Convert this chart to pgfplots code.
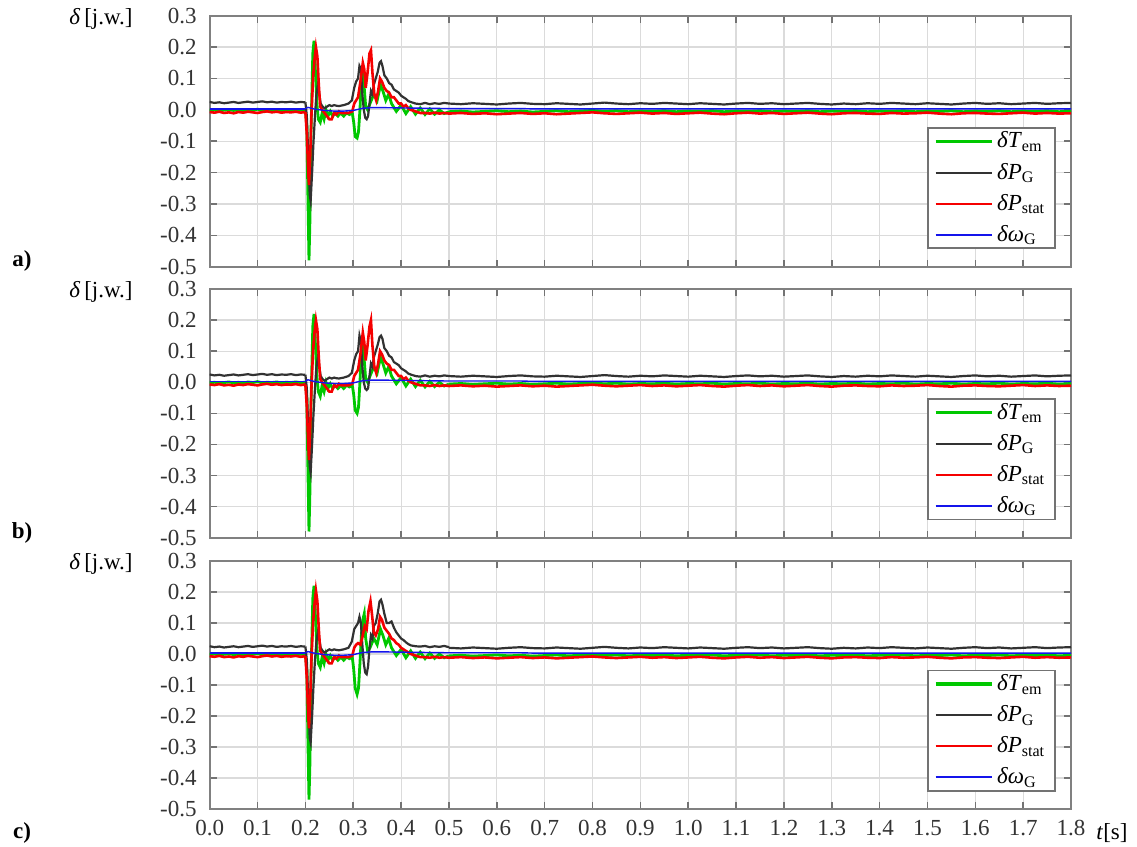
\documentclass[border=0pt]{standalone}
\usepackage{fontspec}
\setmainfont{Liberation Serif}
\usepackage{pgfplots}
\usepackage{pgfplotstable}
\pgfplotsset{compat=1.18}
\definecolor{cg}{RGB}{0,200,0}
\definecolor{ck}{RGB}{50,50,50}
\definecolor{cr}{RGB}{245,0,0}
\definecolor{cb}{RGB}{20,20,235}

\pgfplotstableread{
t g k r b
0.000 -0.002 0.025 -0.007 0.003
0.010 0.000 0.022 -0.009 0.003
0.020 -0.003 0.024 -0.006 0.003
0.030 -0.001 0.021 -0.010 0.003
0.040 0.001 0.023 -0.008 0.003
0.050 -0.002 0.025 -0.011 0.003
0.060 0.000 0.022 -0.007 0.003
0.070 -0.003 0.024 -0.009 0.003
0.080 0.001 0.026 -0.006 0.003
0.090 -0.001 0.023 -0.008 0.003
0.100 0.002 0.025 -0.010 0.003
0.110 -0.002 0.027 -0.007 0.003
0.120 0.000 0.024 -0.005 0.003
0.130 -0.001 0.026 -0.008 0.003
0.140 0.001 0.023 -0.006 0.003
0.150 -0.002 0.025 -0.009 0.003
0.160 0.000 0.024 -0.007 0.003
0.170 -0.001 0.026 -0.008 0.003
0.180 0.001 0.023 -0.006 0.003
0.190 -0.001 0.025 -0.009 0.003
0.200 0.000 0.024 -0.007 0.003
}\pre

\pgfplotstableread{
t g k r b
0.500 -0.006 0.020 -0.012 0.004
0.525 -0.004 0.018 -0.010 0.004
0.550 -0.007 0.021 -0.013 0.004
0.575 -0.005 0.019 -0.011 0.004
0.600 -0.003 0.017 -0.014 0.004
0.625 -0.006 0.020 -0.012 0.004
0.650 -0.004 0.022 -0.010 0.004
0.675 -0.007 0.019 -0.013 0.003
0.700 -0.005 0.018 -0.011 0.003
0.725 -0.003 0.021 -0.014 0.003
0.750 -0.006 0.019 -0.012 0.003
0.775 -0.004 0.017 -0.010 0.003
0.800 -0.002 0.020 -0.008 0.003
0.825 -0.005 0.023 -0.011 0.003
0.850 -0.003 0.020 -0.013 0.003
0.875 -0.006 0.018 -0.011 0.003
0.900 -0.004 0.021 -0.009 0.003
0.925 -0.005 0.019 -0.012 0.003
0.950 -0.003 0.022 -0.010 0.003
0.975 -0.006 0.020 -0.013 0.003
1.000 -0.004 0.018 -0.011 0.003
1.025 -0.005 0.021 -0.009 0.003
1.050 -0.003 0.019 -0.012 0.003
1.075 -0.006 0.017 -0.014 0.003
1.100 -0.004 0.020 -0.011 0.003
1.125 -0.005 0.022 -0.009 0.003
1.150 -0.003 0.019 -0.012 0.003
1.175 -0.006 0.021 -0.010 0.003
1.200 -0.004 0.018 -0.013 0.003
1.225 -0.005 0.020 -0.011 0.003
1.250 -0.003 0.022 -0.009 0.003
1.275 -0.006 0.019 -0.012 0.003
1.300 -0.004 0.017 -0.014 0.003
1.325 -0.005 0.020 -0.011 0.003
1.350 -0.003 0.018 -0.010 0.003
1.375 -0.006 0.021 -0.012 0.003
1.400 -0.004 0.019 -0.013 0.003
1.425 -0.005 0.022 -0.010 0.003
1.450 -0.003 0.020 -0.012 0.003
1.475 -0.006 0.018 -0.011 0.003
1.500 -0.004 0.021 -0.009 0.003
1.525 -0.005 0.019 -0.012 0.003
1.550 -0.003 0.017 -0.014 0.003
1.575 -0.006 0.020 -0.011 0.003
1.600 -0.004 0.022 -0.010 0.003
1.625 -0.005 0.019 -0.012 0.003
1.650 -0.003 0.021 -0.013 0.003
1.675 -0.006 0.018 -0.011 0.003
1.700 -0.004 0.020 -0.009 0.003
1.725 -0.005 0.022 -0.012 0.003
1.750 -0.003 0.019 -0.010 0.003
1.775 -0.006 0.021 -0.012 0.003
1.800 -0.004 0.022 -0.011 0.003
}\late

\pgfplotsset{
  panel/.style={
    scale only axis, width=430.65pt,
    xmin=0, xmax=1.8, ymin=-0.5, ymax=0.3,
    xtick={0,0.1,0.2,0.3,0.4,0.5,0.6,0.7,0.8,0.9,1.0,1.1,1.2,1.3,1.4,1.5,1.6,1.7,1.8},
    ytick={-0.5,-0.4,-0.3,-0.2,-0.1,0,0.1,0.2,0.3},
    tick pos=both, tick align=inside, major tick length=3.5pt,
    every tick/.style={black!55, line width=0.8pt},
    axis line style={black!50, line width=1pt},
    grid=major, major grid style={black!14, line width=0.6pt},
    /pgf/number format/assume math mode=true,
    /pgf/number format/.cd, fixed, fixed zerofill, precision=1, /pgfplots/.cd,
    ticklabel style={font=\fontsize{11.5}{13}\selectfont, text=black!80},
    yticklabel style={xshift=-3pt},
    xticklabel style={yshift=-4.5pt, inner ysep=1pt},
    legend style={at={(rel axis cs:0.9826,0.0705)}, anchor=south east,
      draw=black!55, line width=0.8pt, font=\fontsize{11.5}{13}\selectfont,
      cells={anchor=west}, row sep=2pt, inner xsep=3pt, inner ysep=0pt},
    legend image code/.code={\draw[##1] (0pt,0pt) -- (28pt,0pt);},
  },
  gline/.style={cg, line width=1.4pt, forget plot},
  kline/.style={ck, line width=1.1pt, forget plot},
  rline/.style={cr, line width=1.3pt, forget plot},
  bline/.style={cb, line width=0.7pt, forget plot},
}

\newcommand{\legendset}{%
  \addlegendimage{cg, line width=1.6pt}\addlegendentry{\textit{δT}\textsubscript{em}}
  \addlegendimage{ck, line width=1.0pt}\addlegendentry{\textit{δP}\textsubscript{G}}
  \addlegendimage{cr, line width=1.0pt}\addlegendentry{\textit{δP}\textsubscript{stat}}
  \addlegendimage{cb, line width=1.0pt}\addlegendentry{\textit{δω}\textsubscript{G}}
}

\begin{document}
\begin{tikzpicture}
\useasboundingbox (0,0) rectangle (568.5pt,-423.5pt);
\def\lbl{\fontsize{11.5}{13}\selectfont}

% ---------------- panel a ----------------
\begin{axis}[panel, height=125.5pt, at={(104.85pt,-7.85pt)}, anchor=north west, xticklabels={}]
\addplot[gline] table[x=t,y=g]{\pre};
\addplot[gline] coordinates {(0.200,0.000) (0.203,-0.05) (0.2055,-0.30) (0.2075,-0.48) (0.2095,-0.35) (0.212,-0.05) (0.2155,0.18) (0.218,0.22) (0.221,0.12) (0.224,0.02) (0.227,-0.03) (0.231,-0.04) (0.235,-0.01) (0.239,-0.03) (0.243,0.00) (0.247,-0.02) (0.252,-0.005) (0.257,-0.02) (0.262,-0.01) (0.268,-0.02) (0.274,-0.01) (0.280,-0.02) (0.286,-0.01) (0.292,-0.015) (0.298,-0.01) (0.301,-0.04) (0.304,-0.085) (0.308,-0.09) (0.311,-0.07) (0.314,0.00) (0.317,0.10) (0.320,0.14) (0.323,0.07) (0.326,0.01) (0.330,0.00) (0.335,0.02) (0.343,0.05) (0.350,0.03) (0.357,0.08) (0.362,0.06) (0.368,0.03) (0.374,0.05) (0.380,0.02) (0.390,-0.005) (0.400,0.015) (0.410,-0.012) (0.420,0.01) (0.430,-0.014) (0.440,0.006) (0.450,-0.015) (0.460,0.003) (0.470,-0.014) (0.480,0.000) (0.490,-0.012) (0.500,-0.006)};
\addplot[gline] table[x=t,y=g]{\late};
\addplot[kline] table[x=t,y=k]{\pre};
\addplot[kline] coordinates {(0.200,0.024) (0.203,-0.02) (0.206,-0.15) (0.209,-0.27) (0.211,-0.29) (0.214,-0.20) (0.217,-0.10) (0.220,-0.02) (0.223,0.05) (0.226,0.08) (0.229,0.05) (0.232,0.02) (0.236,0.01) (0.240,0.005) (0.245,0.01) (0.250,0.015) (0.255,0.012) (0.260,0.015) (0.265,0.013) (0.270,0.012) (0.280,0.015) (0.290,0.02) (0.297,0.03) (0.302,0.07) (0.306,0.09) (0.310,0.10) (0.313,0.14) (0.316,0.13) (0.319,0.05) (0.322,0.00) (0.325,-0.025) (0.328,-0.03) (0.331,-0.02) (0.334,0.02) (0.337,0.06) (0.340,0.05) (0.343,0.08) (0.347,0.10) (0.351,0.12) (0.355,0.15) (0.358,0.155) (0.361,0.14) (0.365,0.11) (0.370,0.10) (0.375,0.085) (0.380,0.08) (0.385,0.065) (0.390,0.06) (0.395,0.055) (0.400,0.045) (0.405,0.04) (0.410,0.035) (0.415,0.028) (0.420,0.025) (0.430,0.02) (0.440,0.018) (0.450,0.022) (0.460,0.018) (0.470,0.021) (0.480,0.019) (0.490,0.022) (0.500,0.020)};
\addplot[kline] table[x=t,y=k]{\late};
\addplot[rline] table[x=t,y=r]{\pre};
\addplot[rline] coordinates {(0.200,-0.007) (0.203,-0.08) (0.206,-0.20) (0.2075,-0.24) (0.210,-0.15) (0.213,0.00) (0.216,0.10) (0.219,0.16) (0.222,0.20) (0.225,0.17) (0.228,0.08) (0.231,0.01) (0.235,0.00) (0.240,-0.01) (0.245,-0.02) (0.250,-0.03) (0.255,-0.03) (0.260,-0.01) (0.265,-0.015) (0.270,-0.005) (0.275,-0.01) (0.280,-0.01) (0.290,-0.01) (0.298,-0.005) (0.302,0.02) (0.306,0.03) (0.310,0.04) (0.315,0.09) (0.320,0.15) (0.323,0.13) (0.326,0.07) (0.330,0.12) (0.334,0.18) (0.337,0.19) (0.340,0.12) (0.344,0.05) (0.348,0.03) (0.352,0.06) (0.356,0.10) (0.360,0.09) (0.365,0.07) (0.370,0.06) (0.375,0.055) (0.380,0.04) (0.385,0.04) (0.390,0.03) (0.395,0.02) (0.400,0.02) (0.405,0.01) (0.410,0.015) (0.415,0.005) (0.420,0.00) (0.430,-0.005) (0.440,-0.01) (0.450,-0.01) (0.460,-0.012) (0.470,-0.009) (0.480,-0.012) (0.490,-0.01) (0.500,-0.012)};
\addplot[rline] table[x=t,y=r]{\late};
\addplot[bline] table[x=t,y=b]{\pre};
\addplot[bline] coordinates {(0.200,0.003) (0.205,0.008) (0.210,0.006) (0.220,0.002) (0.240,-0.002) (0.260,-0.004) (0.280,-0.004) (0.300,-0.002) (0.320,0.005) (0.340,0.007) (0.360,0.007) (0.400,0.006) (0.450,0.005) (0.500,0.004)};
\addplot[bline] table[x=t,y=b]{\late};
\legendset
\end{axis}

% ---------------- panel b ----------------
\begin{axis}[panel, height=124.35pt, at={(104.85pt,-144.5pt)}, anchor=north west, xticklabels={}]
\addplot[gline] table[x=t,y=g]{\pre};
\addplot[gline] coordinates {(0.200,0.000) (0.203,-0.05) (0.2055,-0.30) (0.2075,-0.48) (0.2095,-0.35) (0.212,-0.05) (0.2155,0.18) (0.218,0.22) (0.221,0.12) (0.224,0.02) (0.227,-0.03) (0.231,-0.045) (0.235,-0.01) (0.239,-0.03) (0.243,0.00) (0.247,-0.02) (0.252,-0.005) (0.257,-0.02) (0.262,-0.01) (0.268,-0.02) (0.274,-0.01) (0.280,-0.02) (0.286,-0.01) (0.292,-0.015) (0.298,-0.01) (0.301,-0.04) (0.304,-0.09) (0.308,-0.10) (0.311,-0.08) (0.314,0.00) (0.317,0.10) (0.320,0.14) (0.323,0.07) (0.326,0.01) (0.330,0.00) (0.335,0.02) (0.343,0.05) (0.350,0.03) (0.357,0.08) (0.362,0.06) (0.368,0.03) (0.374,0.05) (0.380,0.02) (0.390,-0.005) (0.400,0.015) (0.410,-0.012) (0.420,0.01) (0.430,-0.014) (0.440,0.006) (0.450,-0.015) (0.460,0.003) (0.470,-0.014) (0.480,0.000) (0.490,-0.012) (0.500,-0.006)};
\addplot[gline] table[x=t,y=g]{\late};
\addplot[kline] table[x=t,y=k]{\pre};
\addplot[kline] coordinates {(0.200,0.024) (0.203,-0.02) (0.206,-0.15) (0.209,-0.27) (0.211,-0.29) (0.214,-0.20) (0.217,-0.10) (0.220,-0.02) (0.223,0.05) (0.226,0.08) (0.229,0.05) (0.232,0.02) (0.236,0.01) (0.240,0.005) (0.245,0.01) (0.250,0.015) (0.255,0.012) (0.260,0.015) (0.265,0.013) (0.270,0.012) (0.280,0.015) (0.290,0.02) (0.297,0.03) (0.302,0.07) (0.306,0.09) (0.310,0.10) (0.313,0.15) (0.316,0.13) (0.319,0.05) (0.322,0.00) (0.325,-0.02) (0.328,-0.025) (0.331,-0.02) (0.334,0.02) (0.337,0.06) (0.340,0.05) (0.343,0.08) (0.347,0.10) (0.351,0.12) (0.355,0.145) (0.358,0.15) (0.361,0.14) (0.365,0.11) (0.370,0.10) (0.375,0.085) (0.380,0.08) (0.385,0.065) (0.390,0.06) (0.395,0.055) (0.400,0.045) (0.405,0.04) (0.410,0.035) (0.415,0.028) (0.420,0.025) (0.430,0.02) (0.440,0.018) (0.450,0.022) (0.460,0.018) (0.470,0.021) (0.480,0.019) (0.490,0.022) (0.500,0.020)};
\addplot[kline] table[x=t,y=k]{\late};
\addplot[rline] table[x=t,y=r]{\pre};
\addplot[rline] coordinates {(0.200,-0.007) (0.203,-0.08) (0.206,-0.20) (0.2075,-0.25) (0.210,-0.15) (0.213,0.00) (0.216,0.10) (0.219,0.16) (0.222,0.20) (0.225,0.17) (0.228,0.08) (0.231,0.01) (0.235,0.00) (0.240,-0.01) (0.245,-0.02) (0.250,-0.03) (0.255,-0.03) (0.260,-0.01) (0.265,-0.015) (0.270,-0.005) (0.275,-0.01) (0.280,-0.01) (0.290,-0.01) (0.298,-0.005) (0.302,0.02) (0.306,0.03) (0.310,0.04) (0.315,0.09) (0.320,0.16) (0.323,0.13) (0.326,0.07) (0.330,0.12) (0.334,0.18) (0.337,0.20) (0.340,0.12) (0.344,0.05) (0.348,0.03) (0.352,0.06) (0.356,0.10) (0.360,0.09) (0.365,0.07) (0.370,0.06) (0.375,0.055) (0.380,0.04) (0.385,0.04) (0.390,0.03) (0.395,0.02) (0.400,0.02) (0.405,0.01) (0.410,0.015) (0.415,0.005) (0.420,0.00) (0.430,-0.005) (0.440,-0.01) (0.450,-0.01) (0.460,-0.012) (0.470,-0.009) (0.480,-0.012) (0.490,-0.01) (0.500,-0.012)};
\addplot[rline] table[x=t,y=r]{\late};
\addplot[bline] table[x=t,y=b]{\pre};
\addplot[bline] coordinates {(0.200,0.003) (0.205,0.008) (0.210,0.006) (0.220,0.002) (0.240,-0.002) (0.260,-0.004) (0.280,-0.004) (0.300,-0.002) (0.320,0.005) (0.340,0.007) (0.360,0.007) (0.400,0.006) (0.450,0.005) (0.500,0.004)};
\addplot[bline] table[x=t,y=b]{\late};
\legendset
\end{axis}

% ---------------- panel c ----------------
\begin{axis}[panel, height=124pt, at={(104.85pt,-280.5pt)}, anchor=north west]
\addplot[gline] table[x=t,y=g]{\pre};
\addplot[gline] coordinates {(0.200,0.000) (0.203,-0.05) (0.2055,-0.30) (0.2075,-0.47) (0.2095,-0.35) (0.212,-0.05) (0.2155,0.18) (0.218,0.22) (0.221,0.12) (0.224,0.02) (0.227,-0.03) (0.231,-0.043) (0.235,-0.01) (0.239,-0.03) (0.243,0.00) (0.247,-0.02) (0.252,-0.005) (0.257,-0.02) (0.262,-0.01) (0.268,-0.02) (0.274,-0.01) (0.280,-0.02) (0.286,-0.01) (0.292,-0.015) (0.298,-0.01) (0.301,-0.05) (0.304,-0.11) (0.308,-0.13) (0.311,-0.11) (0.314,-0.03) (0.317,0.06) (0.320,0.11) (0.323,0.13) (0.326,0.05) (0.330,0.01) (0.335,0.02) (0.343,0.05) (0.350,0.03) (0.357,0.08) (0.362,0.06) (0.368,0.03) (0.374,0.05) (0.380,0.02) (0.390,-0.005) (0.400,0.015) (0.410,-0.012) (0.420,0.01) (0.430,-0.014) (0.440,0.006) (0.450,-0.015) (0.460,0.003) (0.470,-0.014) (0.480,0.000) (0.490,-0.012) (0.500,-0.006)};
\addplot[gline] table[x=t,y=g]{\late};
\addplot[kline] table[x=t,y=k]{\pre};
\addplot[kline] coordinates {(0.200,0.024) (0.203,-0.02) (0.206,-0.15) (0.209,-0.27) (0.211,-0.285) (0.214,-0.20) (0.217,-0.10) (0.220,-0.02) (0.223,0.04) (0.226,0.07) (0.229,0.05) (0.232,0.02) (0.236,0.01) (0.240,0.005) (0.245,0.01) (0.250,0.015) (0.255,0.012) (0.260,0.015) (0.265,0.013) (0.270,0.012) (0.280,0.015) (0.290,0.02) (0.297,0.04) (0.302,0.08) (0.306,0.09) (0.310,0.10) (0.313,0.12) (0.316,0.10) (0.319,0.03) (0.322,-0.03) (0.325,-0.06) (0.328,-0.065) (0.331,-0.04) (0.334,0.02) (0.337,0.06) (0.340,0.05) (0.343,0.09) (0.347,0.10) (0.351,0.13) (0.355,0.17) (0.358,0.175) (0.361,0.16) (0.365,0.13) (0.370,0.10) (0.375,0.10) (0.380,0.105) (0.385,0.085) (0.390,0.07) (0.395,0.06) (0.400,0.05) (0.405,0.045) (0.410,0.038) (0.415,0.032) (0.420,0.028) (0.430,0.025) (0.440,0.024) (0.450,0.026) (0.460,0.022) (0.470,0.025) (0.480,0.023) (0.490,0.026) (0.500,0.022)};
\addplot[kline] table[x=t,y=k]{\late};
\addplot[rline] table[x=t,y=r]{\pre};
\addplot[rline] coordinates {(0.200,-0.007) (0.203,-0.08) (0.206,-0.20) (0.2075,-0.24) (0.210,-0.15) (0.213,0.00) (0.216,0.10) (0.219,0.16) (0.222,0.205) (0.225,0.17) (0.228,0.08) (0.231,0.01) (0.235,0.00) (0.240,-0.01) (0.245,-0.02) (0.250,-0.03) (0.255,-0.03) (0.260,-0.01) (0.265,-0.015) (0.270,-0.005) (0.275,-0.01) (0.280,-0.01) (0.290,-0.01) (0.298,-0.005) (0.302,0.02) (0.306,0.03) (0.310,0.035) (0.315,0.03) (0.320,0.06) (0.324,0.09) (0.328,0.08) (0.332,0.14) (0.336,0.17) (0.339,0.13) (0.343,0.07) (0.347,0.06) (0.352,0.08) (0.356,0.12) (0.360,0.11) (0.365,0.085) (0.370,0.075) (0.375,0.065) (0.380,0.05) (0.385,0.045) (0.390,0.035) (0.395,0.03) (0.400,0.02) (0.405,0.015) (0.410,0.01) (0.415,0.005) (0.420,0.00) (0.430,-0.005) (0.440,-0.01) (0.450,-0.01) (0.460,-0.012) (0.470,-0.009) (0.480,-0.012) (0.490,-0.01) (0.500,-0.012)};
\addplot[rline] table[x=t,y=r]{\late};
\addplot[bline] table[x=t,y=b]{\pre};
\addplot[bline] coordinates {(0.200,0.003) (0.205,0.008) (0.210,0.006) (0.220,0.002) (0.240,-0.002) (0.260,-0.004) (0.280,-0.004) (0.300,-0.002) (0.320,0.005) (0.340,0.007) (0.360,0.007) (0.400,0.006) (0.450,0.005) (0.500,0.004)};
\addplot[bline] table[x=t,y=b]{\late};
\legendset
\end{axis}

\node[font=\lbl] at (50.5pt,-9.5pt) {\textit{δ}\,[j.w.]};
\node[font=\lbl] at (50.5pt,-146pt) {\textit{δ}\,[j.w.]};
\node[font=\lbl] at (50.5pt,-282pt) {\textit{δ}\,[j.w.]};
\node[font=\bfseries\lbl] at (11pt,-130.5pt) {a)};
\node[font=\bfseries\lbl] at (11pt,-266.5pt) {b)};
\node[font=\bfseries\lbl, inner sep=1pt] at (11pt,-416.5pt) {c)};
\node[font=\lbl, inner sep=1pt] at (556pt,-416.5pt) {\textit{t}[s]};
\end{tikzpicture}
\end{document}
